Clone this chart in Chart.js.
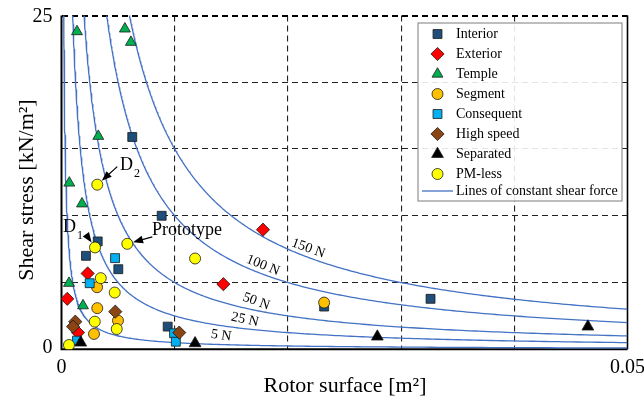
<!DOCTYPE html>
<html>
<head>
<meta charset="utf-8">
<script src="https://cdn.jsdelivr.net/npm/chart.js@4/dist/chart.umd.min.js"></script>
<style>
  html, body { margin: 0; padding: 0; background: #fff; }
  #wrap { width: 644px; height: 405px; }
</style>
</head>
<body>
<div id="wrap"><canvas id="shearChart"></canvas></div>
<script>
// rotor surface [m2] and shear stress [kN/m2] per machine type
const interiorX = [0.00625, 0.00885, 0.0032, 0.00216, 0.00502, 0.00938, 0.0232, 0.0326];
const interiorY = [15.9, 10.0, 8.08, 7.0, 6.0, 1.7, 3.2, 3.78];

const exteriorX = [0.00051, 0.00231, 0.00146, 0.0143, 0.0178];
const exteriorY = [3.78, 5.68, 1.25, 4.88, 8.96];

const templeX = [0.00137, 0.0056, 0.00613, 0.00325, 0.00069, 0.00181, 0.00066, 0.0019];
const templeY = [23.8, 24.0, 23.0, 15.96, 12.46, 10.9, 4.95, 3.27];

const segmentX = [0.00314, 0.00316, 0.00499, 0.00287, 0.0232];
const segmentY = [4.65, 3.08, 2.15, 1.15, 3.5];

const consequentX = [0.00473, 0.00249, 0.00137, 0.00994, 0.0101];
const consequentY = [6.83, 4.95, 0.65, 1.2, 0.57];

const highSpeedX = [0.00475, 0.00122, 0.00102, 0.0104];
const highSpeedY = [2.82, 2.07, 1.7, 1.25];

const separatedX = [0.0017, 0.0118, 0.0279, 0.0465];
const separatedY = [0.5, 0.45, 0.95, 1.7];

// first three are D2, D1 and the prototype
const pmLessX = [0.00316, 0.00296, 0.00581, 0.00347, 0.0047, 0.00294, 0.00488, 0.00066, 0.0118];
const pmLessY = [12.33, 7.63, 7.9, 5.33, 4.25, 2.07, 1.52, 0.32, 6.8];

// constant shear force lines [N]
const forces = [5, 25, 50, 100, 150];
const forceLabelX = [0.0141, 0.0162, 0.0172, 0.0178, 0.0218];
const forceLabelAngle = [8, 13, 20, 22, 20];

const serif = '"Liberation Serif", "DejaVu Serif", serif';
const curveColor = '#4472c4';

function toPoints(xs, ys) {
  return xs.map((x, i) => ({x: x, y: ys[i]}));
}

// tau = F / A, with F in N and tau in kN/m2
function forceCurve(f) {
  const pts = [];
  const x0 = f / (1000 * 26);
  for (let i = 0; i <= 300; i++) {
    const x = x0 * Math.pow(0.05 / x0, i / 300);
    pts.push({x: x, y: f / (1000 * x)});
  }
  return pts;
}

const series = [
  {label: 'Interior',   data: toPoints(interiorX, interiorY),     style: 'rect',     color: '#1f4e79', r: 6.3},
  {label: 'Exterior',   data: toPoints(exteriorX, exteriorY),     style: 'rectRot',  color: '#ff0000', r: 6.6},
  {label: 'Temple',     data: toPoints(templeX, templeY),         style: 'triangle', color: '#00b050', r: 6.3},
  {label: 'Segment',    data: toPoints(segmentX, segmentY),       style: 'circle',   color: '#ffc000', r: 5.5},
  {label: 'Consequent', data: toPoints(consequentX, consequentY), style: 'rect',     color: '#00b0f0', r: 6.3},
  {label: 'High speed', data: toPoints(highSpeedX, highSpeedY),   style: 'rectRot',  color: '#8b4513', r: 6.6},
  {label: 'Separated',  data: toPoints(separatedX, separatedY),   style: 'triangle', color: '#000000', r: 6.8},
  {label: 'PM-less',    data: toPoints(pmLessX, pmLessY),         style: 'circle',   color: '#ffff00', r: 5.5}
];

const datasets = [];
series.forEach((s, i) => {
  datasets.push({
    label: s.label,
    data: s.data,
    pointStyle: s.style,
    pointRadius: s.r,
    pointHoverRadius: s.r,
    backgroundColor: s.color,
    borderColor: '#1a1a1a',
    borderWidth: 0.8,
    order: 20 - i   // later series drawn on top
  });
});
forces.forEach(f => {
  datasets.push({
    label: f + ' N',
    data: forceCurve(f),
    showLine: true,
    pointRadius: 0,
    borderColor: curveColor,
    borderWidth: 1.3,
    fill: false,
    order: 100
  });
});

// solid frame on left, bottom and right
const framePlugin = {
  id: 'frame',
  beforeDatasetsDraw(chart) {
    const {ctx, chartArea: a} = chart;
    ctx.save();
    ctx.strokeStyle = '#000';
    ctx.lineWidth = 2;
    ctx.beginPath();
    ctx.moveTo(a.left, a.top);
    ctx.lineTo(a.left, a.bottom);
    ctx.lineTo(a.right, a.bottom);
    ctx.stroke();
    ctx.lineWidth = 1.6;
    ctx.beginPath();
    ctx.moveTo(a.right, a.top);
    ctx.lineTo(a.right, a.bottom);
    ctx.stroke();
    ctx.restore();
  }
};

// tick labels, axis titles, force labels and callouts
const textPlugin = {
  id: 'texts',
  afterDatasetsDraw(chart) {
    const {ctx} = chart;
    const sx = chart.scales.x, sy = chart.scales.y;
    ctx.save();
    ctx.fillStyle = '#000';
    ctx.font = '20px ' + serif;
    ctx.textBaseline = 'middle';
    ctx.textAlign = 'right';
    ctx.fillText('25', sx.left - 9, sy.getPixelForValue(25) + 1);
    ctx.fillText('0', sx.left - 9, sy.getPixelForValue(0) - 2);
    ctx.textAlign = 'center';
    ctx.fillText('0', sx.getPixelForValue(0), sy.bottom + 18);
    ctx.fillText('0.05', sx.getPixelForValue(0.05), sy.bottom + 18);

    ctx.font = '22px ' + serif;
    ctx.fillText('Rotor surface [m²]', 345, 386);
    ctx.save();
    ctx.translate(27, 190);
    ctx.rotate(-Math.PI / 2);
    ctx.fillText('Shear stress [kN/m²]', 0, 0);
    ctx.restore();

    // force labels above their curves
    ctx.font = '14px ' + serif;
    forces.forEach((f, i) => {
      const x = forceLabelX[i];
      const px = sx.getPixelForValue(x);
      const py = sy.getPixelForValue(f / (1000 * x)) - 9;
      ctx.save();
      ctx.translate(px, py);
      ctx.rotate(forceLabelAngle[i] * Math.PI / 180);
      ctx.fillText(f + ' N', 0, 0);
      ctx.restore();
    });

    // callouts on PM-less points
    const callouts = [
      {idx: 0, text: 'D', sub: '2', tx: 120, ty: 165, dx: 20, dy: -18},
      {idx: 1, text: 'D', sub: '1', tx: 63, ty: 227, dx: -9, dy: -13},
      {idx: 2, text: 'Prototype', sub: '', tx: 152, ty: 230, dx: 25, dy: -7}
    ];
    callouts.forEach(c => {
      const px = sx.getPixelForValue(pmLessX[c.idx]);
      const py = sy.getPixelForValue(pmLessY[c.idx]);
      ctx.font = '18px ' + serif;
      ctx.textAlign = 'left';
      ctx.fillText(c.text, c.tx, c.ty);
      if (c.sub) {
        const w = ctx.measureText(c.text).width;
        ctx.font = '12px ' + serif;
        ctx.fillText(c.sub, c.tx + w + 1, c.ty + 9);
      }
      const len = Math.hypot(c.dx, c.dy);
      const ux = c.dx / len, uy = c.dy / len;
      const hx = px + ux * 6, hy = py + uy * 6;
      const tx = px + c.dx, ty = py + c.dy;
      ctx.strokeStyle = '#000';
      ctx.lineWidth = 1.2;
      ctx.beginPath();
      ctx.moveTo(tx, ty);
      ctx.lineTo(hx + ux * 7, hy + uy * 7);
      ctx.stroke();
      // arrow head
      const nx = -uy, ny = ux;
      ctx.beginPath();
      ctx.moveTo(hx, hy);
      ctx.lineTo(hx + ux * 10 + nx * 3.8, hy + uy * 10 + ny * 3.8);
      ctx.lineTo(hx + ux * 10 - nx * 3.8, hy + uy * 10 - ny * 3.8);
      ctx.closePath();
      ctx.fill();
    });
    ctx.restore();
  }
};

// boxed legend in the upper right
const legendPlugin = {
  id: 'boxLegend',
  afterDraw(chart) {
    const {ctx} = chart;
    const bx = 418, by = 23, bw = 204, bh = 178;
    ctx.save();
    ctx.fillStyle = 'rgba(255,255,255,0.88)';
    ctx.fillRect(bx, by, bw, bh);
    ctx.strokeStyle = '#9a9a9a';
    ctx.lineWidth = 1.3;
    ctx.strokeRect(bx, by, bw, bh);
    ctx.font = '14px ' + serif;
    ctx.textBaseline = 'middle';
    ctx.textAlign = 'left';
    series.forEach((s, i) => {
      const y = 34 + i * 20;
      ctx.fillStyle = s.color;
      ctx.strokeStyle = '#1a1a1a';
      ctx.lineWidth = 0.8;
      Chart.helpers.drawPoint(ctx, {pointStyle: s.style, radius: s.r, rotation: 0, borderWidth: 0.8}, 437.5, y);
      ctx.fillStyle = '#000';
      ctx.fillText(s.label, 456, y);
    });
    ctx.strokeStyle = curveColor;
    ctx.lineWidth = 1.3;
    ctx.beginPath();
    ctx.moveTo(422, 191);
    ctx.lineTo(453, 191);
    ctx.stroke();
    ctx.fillStyle = '#000';
    ctx.fillText('Lines of constant shear force', 456, 191);
    ctx.restore();
  }
};

const dashedGrid = (isX) => ({
  drawTicks: false,
  color: ctx => {
    const v = ctx.tick ? ctx.tick.value : null;
    if (v === 0) return 'rgba(0,0,0,0)';
    if (isX && Math.abs(v - 0.05) < 1e-9) return 'rgba(0,0,0,0)';
    return (!isX && v === 25) ? '#000' : '#222';
  },
  lineWidth: ctx => (!isX && ctx.tick && ctx.tick.value === 25) ? 2 : 1.1
});

new Chart(document.getElementById('shearChart'), {
  type: 'scatter',
  data: {datasets: datasets},
  options: {
    responsive: true,
    maintainAspectRatio: false,
    animation: false,
    layout: {padding: {left: 61.5, right: 16.5, top: 15.5, bottom: 55.7}},
    plugins: {
      legend: {display: false},
      tooltip: {enabled: false}
    },
    scales: {
      x: {
        type: 'linear',
        min: 0,
        max: 0.05,
        ticks: {display: false, stepSize: 0.01},
        grid: dashedGrid(true),
        border: {display: false, dash: [6, 4]}
      },
      y: {
        type: 'linear',
        min: 0,
        max: 25,
        ticks: {display: false, stepSize: 5},
        grid: dashedGrid(false),
        border: {display: false, dash: [6, 4]}
      }
    }
  },
  plugins: [framePlugin, textPlugin, legendPlugin]
});
</script>
</body>
</html>
